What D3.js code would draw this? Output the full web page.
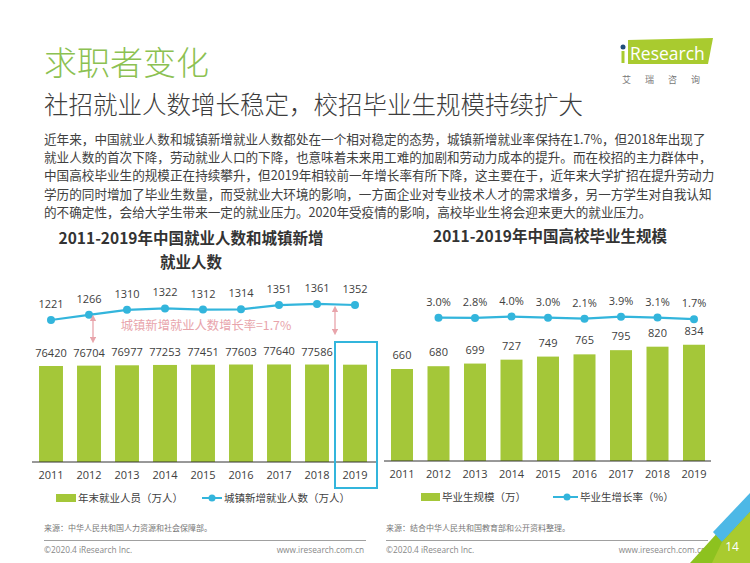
<!DOCTYPE html>
<html><head><meta charset="utf-8">
<script src="https://cdn.jsdelivr.net/npm/d3@7"></script>
<style>
html,body{margin:0;padding:0;background:#fff;}
svg{display:block;font-family:"Open Sans","Noto Sans CJK SC",sans-serif;}
</style></head>
<body>
<svg id="c" width="750" height="563"></svg>
<script>
// ---------- data ----------
const years = ["2011","2012","2013","2014","2015","2016","2017","2018","2019"];
const employed = [76420,76704,76977,77253,77451,77603,77640,77586,77471];
const employedLabels = ["76420","76704","76977","77253","77451","77603","77640","77586",""];
const urbanNew = [1221,1266,1310,1322,1312,1314,1351,1361,1352];
const graduates = [660,680,699,727,749,765,795,820,834];
const gradGrowthYears = ["2012","2013","2014","2015","2016","2017","2018","2019"];
const gradGrowth = [3.0,2.8,4.0,3.0,2.1,3.9,3.1,1.7];
const paragraph = [
 "近年来，中国就业人数和城镇新增就业人数都处在一个相对稳定的态势，城镇新增就业率保持在1.7%，但2018年出现了",
 "就业人数的首次下降，劳动就业人口的下降，也意味着未来用工难的加剧和劳动力成本的提升。而在校招的主力群体中，",
 "中国高校毕业生的规模正在持续攀升，但2019年相较前一年增长率有所下降，这主要在于，近年来大学扩招在提升劳动力",
 "学历的同时增加了毕业生数量，而受就业大环境的影响，一方面企业对专业技术人才的需求增多，另一方学生对自我认知",
 "的不确定性，会给大学生带来一定的就业压力。2020年受疫情的影响，高校毕业生将会迎来更大的就业压力。"
];

const GREEN = "#a4c739", BLUE = "#33b5dc", PINK = "#e8a4ab", TXT = "#404040";
const svg = d3.select("#c");

// ---------- header ----------
svg.append("text").attr("x",44).attr("y",75).attr("fill","#8cc152").attr("font-weight",300)
  .attr("font-size",33).attr("font-family","Noto Sans CJK SC").text("求职者变化");
svg.append("text").attr("x",44).attr("y",114).attr("fill","#3c3c3c").attr("font-weight",300)
  .attr("font-size",24.5).attr("font-family","Noto Sans CJK SC").text("社招就业人数增长稳定，校招毕业生规模持续扩大");
svg.append("g").selectAll("text").data(paragraph).join("text")
  .attr("x",44).attr("y",(d,i)=>144+i*18.2).attr("fill",TXT)
  .attr("font-size",12.6).attr("font-family","Noto Sans CJK SC").text(d=>d);

// logo
const logo = svg.append("g");
logo.append("path").attr("d","M628,40 L713,38 L708,64 L628,64 Z").attr("fill","#a9cb2f");
logo.append("circle").attr("cx",623).attr("cy",47).attr("r",2.5).attr("fill","#1f4e79");
logo.append("rect").attr("x",621.5).attr("y",51).attr("width",3).attr("height",12).attr("fill","#a9cb2f");
logo.append("text").attr("x",630).attr("y",60).attr("fill","#fff").attr("font-size",17.5)
  .attr("font-family","Open Sans").text("Research");
logo.append("text").attr("x",622).attr("y",83).attr("fill","#777").attr("font-size",9)
  .attr("letter-spacing",14).attr("font-family","Noto Sans CJK SC").text("艾瑞咨询");

// ---------- left chart ----------
svg.append("text").attr("x",191).attr("y",244).attr("text-anchor","middle").attr("font-weight","bold")
  .attr("font-size",15.5).attr("fill","#333").attr("font-family","Noto Sans CJK SC").text("2011-2019年中国就业人数和城镇新增");
svg.append("text").attr("x",191).attr("y",268).attr("text-anchor","middle").attr("font-weight","bold")
  .attr("font-size",15.5).attr("fill","#333").attr("font-family","Noto Sans CJK SC").text("就业人数");

const xL = d3.scaleBand().domain(years).range([32,374]).paddingInner(0.37).paddingOuter(0.185);
const yL = d3.scaleLinear().domain([0,80000]).range([462,361.5]);
const yL2 = d3.scaleLinear().domain([1200,1400]).range([322.4,299.5]);
const gL = svg.append("g");
gL.selectAll("rect.bar").data(employed).join("rect").attr("class","bar")
  .attr("x",(d,i)=>xL(years[i])).attr("width",xL.bandwidth())
  .attr("y",d=>yL(d)).attr("height",d=>462-yL(d)).attr("fill",GREEN);
gL.selectAll("text.bl").data(employed).join("text").attr("class","bl")
  .attr("x",(d,i)=>xL(years[i])+xL.bandwidth()/2).attr("y",d=>yL(d)-9)
  .attr("text-anchor","middle").attr("font-size",11).attr("fill",TXT).text((d,i)=>employedLabels[i]);
const axL = d3.axisBottom(xL).tickSize(0).tickPadding(9);
const axLg = gL.append("g").attr("transform","translate(0,462)").call(axL);
axLg.select(".domain").attr("d","M32,0H378").attr("stroke","#333").attr("stroke-width",1);
axLg.selectAll("text").attr("font-size",11).attr("fill",TXT).attr("font-family","Open Sans");
const lineL = d3.line().x((d,i)=>xL(years[i])+xL.bandwidth()/2).y(d=>yL2(d));
gL.append("path").attr("d",lineL(urbanNew)).attr("fill","none").attr("stroke",BLUE).attr("stroke-width",2.2);
gL.selectAll("circle").data(urbanNew).join("circle")
  .attr("cx",(d,i)=>xL(years[i])+xL.bandwidth()/2).attr("cy",d=>yL2(d)).attr("r",4).attr("fill",BLUE);
gL.selectAll("text.ll").data(urbanNew).join("text").attr("class","ll")
  .attr("x",(d,i)=>xL(years[i])+xL.bandwidth()/2).attr("y",d=>yL2(d)-12)
  .attr("text-anchor","middle").attr("font-size",11).attr("fill",TXT).text(d=>d);

// pink arrows + annotation
const defs = svg.append("defs");
defs.append("marker").attr("id","ah").attr("viewBox","0 0 10 10").attr("refX",5).attr("refY",5)
  .attr("markerWidth",5).attr("markerHeight",5).attr("orient","auto-start-reverse")
  .append("path").attr("d","M0,0L10,5L0,10Z").attr("fill",PINK);
function dArrow(x,y1,y2){
  gL.append("line").attr("x1",x).attr("x2",x).attr("y1",y1).attr("y2",y2)
    .attr("stroke",PINK).attr("stroke-width",1.3)
    .attr("marker-start","url(#ah)").attr("marker-end","url(#ah)");
}
dArrow(93,318,340);
dArrow(335,309,332);
gL.append("text").attr("x",206).attr("y",330).attr("text-anchor","middle").attr("font-size",12.3)
  .attr("fill",PINK).attr("font-family","Noto Sans CJK SC").text("城镇新增就业人数增长率=1.7%");
// highlight box around 2019
gL.append("rect").attr("x",335).attr("y",342).attr("width",42).attr("height",146)
  .attr("fill","none").attr("stroke",BLUE).attr("stroke-width",2);

// left legend
svg.append("rect").attr("x",56).attr("y",494).attr("width",20).attr("height",8).attr("fill",GREEN);
svg.append("text").attr("x",78).attr("y",502).attr("font-size",10.5).attr("fill",TXT)
  .attr("font-family","Noto Sans CJK SC").text("年末就业人员（万人）");
svg.append("line").attr("x1",202).attr("x2",222).attr("y1",498).attr("y2",498).attr("stroke",BLUE).attr("stroke-width",2);
svg.append("circle").attr("cx",212).attr("cy",498).attr("r",3.5).attr("fill",BLUE);
svg.append("text").attr("x",224).attr("y",502).attr("font-size",10.5).attr("fill",TXT)
  .attr("font-family","Noto Sans CJK SC").text("城镇新增就业人数（万人）");

// ---------- right chart ----------
svg.append("text").attr("x",550).attr("y",242).attr("text-anchor","middle").attr("font-weight","bold")
  .attr("font-size",15.5).attr("fill","#333").attr("font-family","Noto Sans CJK SC").text("2011-2019年中国高校毕业生规模");
const xR = d3.scaleBand().domain(years).range([383.75,712.25]).paddingInner(0.397).paddingOuter(0.1985);
const yR = d3.scaleLinear().domain([0,1000]).range([461,321.6]);
const yR2 = d3.scaleLinear().domain([0,5]).range([321,315.5]);
const gR = svg.append("g");
gR.selectAll("rect.bar").data(graduates).join("rect").attr("class","bar")
  .attr("x",(d,i)=>xR(years[i])).attr("width",xR.bandwidth())
  .attr("y",d=>yR(d)).attr("height",d=>461-yR(d)).attr("fill",GREEN);
gR.selectAll("text.bl").data(graduates).join("text").attr("class","bl")
  .attr("x",(d,i)=>xR(years[i])+xR.bandwidth()/2).attr("y",d=>yR(d)-10)
  .attr("text-anchor","middle").attr("font-size",11).attr("fill",TXT).text(d=>d);
const axRg = gR.append("g").attr("transform","translate(0,461)").call(d3.axisBottom(xR).tickSize(0).tickPadding(9));
axRg.select(".domain").attr("d","M384,0H711").attr("stroke","#333").attr("stroke-width",1);
axRg.selectAll("text").attr("font-size",11).attr("fill",TXT).attr("font-family","Open Sans");
const lineR = d3.line().x((d,i)=>xR(gradGrowthYears[i])+xR.bandwidth()/2).y(d=>yR2(d));
gR.append("path").attr("d",lineR(gradGrowth)).attr("fill","none").attr("stroke",BLUE).attr("stroke-width",2.2);
gR.selectAll("circle").data(gradGrowth).join("circle")
  .attr("cx",(d,i)=>xR(gradGrowthYears[i])+xR.bandwidth()/2).attr("cy",d=>yR2(d)).attr("r",4).attr("fill",BLUE);
gR.selectAll("text.ll").data(gradGrowth).join("text").attr("class","ll")
  .attr("x",(d,i)=>xR(gradGrowthYears[i])+xR.bandwidth()/2).attr("y",d=>yR2(d)-12)
  .attr("text-anchor","middle").attr("font-size",11).attr("fill",TXT).text(d=>d.toFixed(1)+"%");

// right legend
svg.append("rect").attr("x",421).attr("y",493).attr("width",19).attr("height",8).attr("fill",GREEN);
svg.append("text").attr("x",442).attr("y",501).attr("font-size",10.5).attr("fill",TXT)
  .attr("font-family","Noto Sans CJK SC").text("毕业生规模（万）");
svg.append("line").attr("x1",553).attr("x2",578).attr("y1",497).attr("y2",497).attr("stroke",BLUE).attr("stroke-width",2);
svg.append("circle").attr("cx",567).attr("cy",497).attr("r",3.5).attr("fill",BLUE);
svg.append("text").attr("x",580).attr("y",501).attr("font-size",10.5).attr("fill",TXT)
  .attr("font-family","Noto Sans CJK SC").text("毕业生增长率（%）");

// ---------- footers ----------
function footer(x0,x1,src){
  svg.append("text").attr("x",x0).attr("y",531).attr("font-size",8).attr("fill","#777")
    .attr("font-family","Noto Sans CJK SC").text(src);
  svg.append("line").attr("x1",x0).attr("x2",x1).attr("y1",540.5).attr("y2",540.5).attr("stroke","#888").attr("stroke-width",0.8);
  svg.append("text").attr("x",x0).attr("y",553).attr("font-size",8.3).attr("fill","#888").text("©2020.4 iResearch Inc.");
  svg.append("text").attr("x",x1-2).attr("y",553).attr("text-anchor","end").attr("font-size",8.3).attr("fill","#888").text("www.iresearch.com.cn");
}
footer(44,366,"来源：中华人民共和国人力资源和社会保障部。");
footer(386,708,"来源：结合中华人民共和国教育部和公开资料整理。");

// corner decoration
svg.append("path").attr("d","M750,497 L750,563 L690,563 Z").attr("fill","#8dc21f");
svg.append("path").attr("d","M713,532 L750,493 L750,512 L722,542 Z").attr("fill","#4db8e6");
svg.append("path").attr("d","M722,542 L750,512 L750,563 L712,563 Z").attr("fill","#a9cb2f");
svg.append("text").attr("x",732).attr("y",551).attr("text-anchor","middle").attr("font-size",12)
  .attr("fill","#fff").text("14");
</script>
</body></html>
